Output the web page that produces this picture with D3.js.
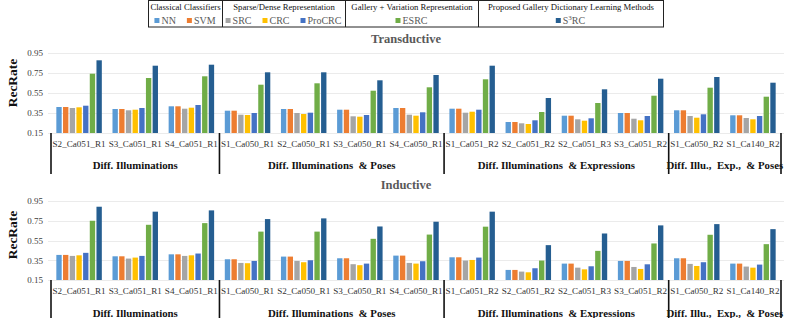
<!DOCTYPE html>
<html><head><meta charset="utf-8">
<script src="https://cdn.jsdelivr.net/npm/d3@7"></script>
<style>
body{margin:0;background:#fff;}
svg{display:block;font-family:"Liberation Serif","Times New Roman",serif;}
</style></head>
<body><svg id="c" width="789" height="318"></svg>
<script>
const methods = ["NN","SVM","SRC","CRC","ProCRC","ESRC","S3RC"];
const methodLabels = ["NN","SVM","SRC","CRC","ProCRC","ESRC","S³RC"];
const colors = ["#5B9BD5","#ED7D31","#A5A5A5","#FFC000","#4472C4","#70AD47","#255E91"];
const categories = ["S2_Ca051_R1","S3_Ca051_R1","S4_Ca051_R1",
  "S1_Ca050_R1","S2_Ca050_R1","S3_Ca050_R1","S4_Ca050_R1",
  "S1_Ca051_R2","S2_Ca051_R2","S2_Ca051_R3","S3_Ca051_R2",
  "S1_Ca050_R2","S1_Ca140_R2"];
const groupNames = ["Diff. Illuminations","Diff. Illuminations\u00a0 & Poses","Diff. Illuminations\u00a0 & Expressions","Diff. Illu.,\u00a0 Exp.,\u00a0 & Poses"];
const groupSizes = [3,4,4,2];
const legendHeaders = ["Classical Classifiers","Sparse/Dense Representation","Gallery + Variation Representation","Proposed Gallery Dictionary Learning Methods"];
const legendColumns = [[0,1],[2,3,4],[5],[6]];
const yTicks = [0.15,0.35,0.55,0.75,0.95];

// rows: NN, SVM, SRC, CRC, ProCRC, ESRC, S3RC ; columns: categories
const transductive = [
  [0.41,0.39,0.417,0.373,0.39,0.383,0.40,0.393,0.26,0.323,0.35,0.377,0.327],
  [0.41,0.39,0.417,0.373,0.39,0.383,0.40,0.393,0.26,0.323,0.35,0.377,0.327],
  [0.40,0.377,0.393,0.333,0.35,0.317,0.333,0.353,0.247,0.287,0.293,0.32,0.30],
  [0.407,0.383,0.403,0.33,0.34,0.313,0.323,0.363,0.24,0.273,0.277,0.303,0.287],
  [0.423,0.40,0.43,0.35,0.353,0.33,0.357,0.383,0.277,0.297,0.32,0.337,0.32],
  [0.743,0.70,0.717,0.633,0.647,0.573,0.607,0.687,0.36,0.45,0.523,0.603,0.513],
  [0.877,0.823,0.833,0.757,0.757,0.677,0.73,0.823,0.50,0.587,0.693,0.71,0.653]
];
const inductive = [
  [0.404,0.39,0.41,0.36,0.387,0.37,0.397,0.38,0.252,0.316,0.343,0.37,0.316],
  [0.404,0.39,0.41,0.36,0.387,0.37,0.397,0.38,0.252,0.316,0.343,0.37,0.316],
  [0.394,0.367,0.394,0.323,0.343,0.31,0.323,0.347,0.235,0.275,0.282,0.313,0.286],
  [0.40,0.377,0.40,0.32,0.33,0.30,0.316,0.353,0.228,0.258,0.262,0.292,0.275],
  [0.425,0.394,0.418,0.343,0.35,0.316,0.34,0.377,0.269,0.289,0.309,0.33,0.306],
  [0.75,0.709,0.726,0.64,0.64,0.567,0.61,0.69,0.347,0.445,0.52,0.608,0.513],
  [0.892,0.842,0.855,0.767,0.774,0.692,0.74,0.842,0.503,0.621,0.703,0.716,0.665]
];

const svg = d3.select("#c");

// ---------- Legend ----------
const colEdges = [148,222,345,478,663];
const lg = svg.append("g");
lg.append("rect").attr("x",148.5).attr("y",0.5).attr("width",663-148).attr("height",26.5)
  .attr("fill","none").attr("stroke","#222").attr("stroke-width",1);
colEdges.slice(1,-1).forEach(x=>lg.append("line").attr("x1",x+0.5).attr("x2",x+0.5).attr("y1",0).attr("y2",27).attr("stroke","#222"));
legendHeaders.forEach((h,i)=>{
  lg.append("text").attr("x",(colEdges[i]+colEdges[i+1])/2 + 0.5).attr("y",10)
    .attr("text-anchor","middle").attr("font-size",8.7).attr("fill","#111").text(h);
});
legendColumns.forEach((cols,i)=>{
  const g = lg.append("g");
  let cx = 0;
  cols.forEach(mi=>{
    g.append("rect").attr("x",cx).attr("y",-5.5).attr("width",5).attr("height",5).attr("fill",colors[mi]);
    const t = g.append("text").attr("x",cx+7).attr("y",0).attr("font-size",10).attr("fill","#595959");
    if(mi===6){ t.append("tspan").text("S"); t.append("tspan").attr("font-size",7).attr("dy",-4).text("3"); t.append("tspan").attr("dy",4).text("RC"); }
    else t.text(methodLabels[mi]);
    cx += 7 + t.node().getComputedTextLength() + 11;
  });
  const w = cx - 11;
  const mid = (colEdges[i]+colEdges[i+1])/2;
  g.attr("transform",`translate(${mid - w/2},23.5)`);
});

// ---------- Panels ----------
const x0 = d3.scaleBand().domain(categories).range([51,781]).paddingInner(0).paddingOuter(0);
const x1 = d3.scaleBand().domain(methods).range([5, x0.bandwidth()-5]).paddingInner(0.2).paddingOuter(0.05);

function panel(values, title, yTop, yBase, titleY, labelY, catY, grpY, sepBottom){
  const y = d3.scaleLinear().domain([0.15,0.95]).range([yBase,yTop]);
  const g = svg.append("g");
  const ax = d3.axisLeft(y).tickValues(yTicks).tickFormat(d3.format(".2f")).tickSize(0).tickPadding(5);
  const axg = g.append("g").attr("transform","translate(48,0)").call(ax);
  axg.attr("font-family","Liberation Serif");
  axg.select(".domain").remove();
  axg.selectAll("text").attr("font-size",9).attr("fill","#404040");
  g.append("g").selectAll("line").data(yTicks).join("line")
    .attr("x1",48).attr("x2",784).attr("y1",d=>Math.round(y(d))+0.5).attr("y2",d=>Math.round(y(d))+0.5)
    .attr("stroke","#EBEBEB").attr("stroke-width",1);
  const cg = g.append("g").selectAll("g").data(categories).join("g")
    .attr("transform",d=>`translate(${x0(d)},0)`);
  cg.selectAll("rect").data((c,ci)=>methods.map((m,mi)=>({m,mi,v:values[mi][ci]}))).join("rect")
    .attr("x",d=>x1(d.m)).attr("width",x1.bandwidth())
    .attr("y",d=>y(d.v)).attr("height",d=>yBase-y(d.v))
    .attr("fill",d=>colors[d.mi]);
  g.append("g").selectAll("text").data(categories).join("text")
    .attr("x",d=>x0(d)+x0.bandwidth()/2).attr("y",catY).attr("text-anchor","middle")
    .attr("font-size",9.1).attr("fill","#333").text(d=>d);
  let acc = 0;
  const bounds = [x0(categories[0])];
  groupSizes.forEach(s=>{acc+=s; bounds.push(acc<categories.length? x0(categories[acc]) : x0.range()[1]);});
  bounds.forEach(b=>g.append("line").attr("x1",b).attr("x2",b).attr("y1",yBase).attr("y2",sepBottom)
    .attr("stroke","#111").attr("stroke-width",1.6));
  groupNames.forEach((n,i)=>{
    g.append("text").attr("x",(bounds[i]+bounds[i+1])/2).attr("y",grpY).attr("text-anchor","middle")
      .attr("font-size",10.8).attr("font-weight","bold").attr("fill","#111").text(n);
  });
  g.append("text").attr("x",406).attr("y",titleY).attr("text-anchor","middle")
    .attr("font-size",12.5).attr("font-weight","bold").attr("fill","#595959").text(title);
  g.append("text").attr("transform",`translate(17,${labelY}) rotate(-90)`).attr("text-anchor","middle")
    .attr("font-size",13.5).attr("font-weight","bold").attr("fill","#111").text("RecRate");
}

panel(transductive,"Transductive",53,133,42.5,83,146.5,169,174);
panel(inductive,"Inductive",201,280,189,235,294,316.5,318);
</script></body></html>
